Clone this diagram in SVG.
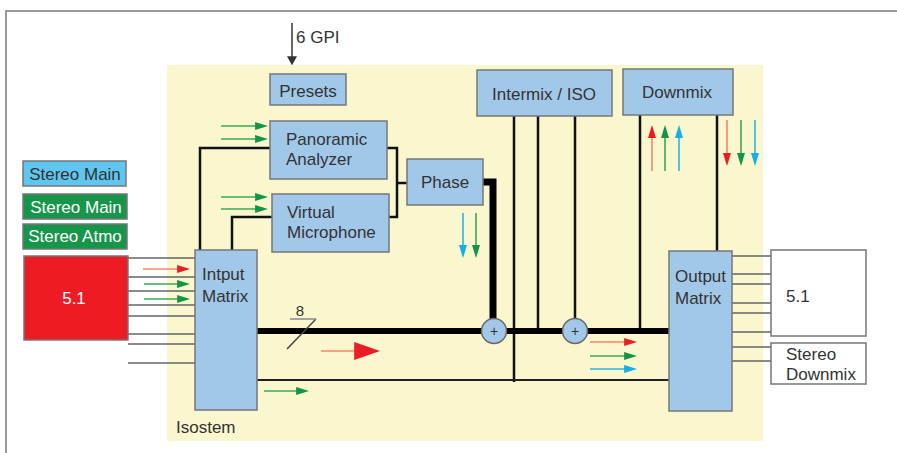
<svg xmlns="http://www.w3.org/2000/svg" width="897" height="453" viewBox="0 0 897 453">
<style>
text{font-family:"Liberation Sans",Arial,sans-serif;font-size:17px;fill:#333}
.box{fill:#a2c8e9;stroke:#777;stroke-width:1.5}
.wbox{fill:#fff;stroke:#777;stroke-width:1.5}
.con{fill:none;stroke:#111;stroke-width:2.5}
.thin{fill:none;stroke:#666;stroke-width:1.5}
.ar{stroke:#f4876a;stroke-width:1.6}
.ag{stroke:#3aa85a;stroke-width:1.6}
.ac{stroke:#2ab4e8;stroke-width:1.6}
.w{fill:#fff}
</style>
<defs>
<marker id="hr" viewBox="0 0 10 10" refX="3" refY="5" markerWidth="13" markerHeight="8" markerUnits="userSpaceOnUse" orient="auto" preserveAspectRatio="none"><path d="M0,0L10,5L0,10z" fill="#ec1c24"/></marker>
<marker id="hg" viewBox="0 0 10 10" refX="3" refY="5" markerWidth="13" markerHeight="8" markerUnits="userSpaceOnUse" orient="auto" preserveAspectRatio="none"><path d="M0,0L10,5L0,10z" fill="#149447"/></marker>
<marker id="hc" viewBox="0 0 10 10" refX="3" refY="5" markerWidth="13" markerHeight="8" markerUnits="userSpaceOnUse" orient="auto" preserveAspectRatio="none"><path d="M0,0L10,5L0,10z" fill="#14aee8"/></marker>
<marker id="hk" viewBox="0 0 10 10" refX="3" refY="5" markerWidth="9" markerHeight="10" markerUnits="userSpaceOnUse" orient="auto" preserveAspectRatio="none"><path d="M0,0L10,5L0,10z" fill="#333"/></marker>
<marker id="hbig" viewBox="0 0 10 10" refX="3" refY="5" markerWidth="26" markerHeight="18" markerUnits="userSpaceOnUse" orient="auto" preserveAspectRatio="none"><path d="M0,0L10,5L0,10z" fill="#ec1c24"/></marker>
</defs>

<path d="M6,453V11H897" fill="none" stroke="#9a9a9a" stroke-width="2"/>
<rect x="167" y="65" width="596" height="376" fill="#faf7cf"/>

<g id="connectors">
<!-- input lines -->
<path class="thin" d="M128,258H195M128,277H195M128,291H195M128,305H195M128,316H195M128,334H195M128,344H195M128,363H195"/>
<!-- output lines -->
<path class="thin" d="M732,256H771M732,274H771M732,284H771M732,303H771M732,313H771M732,332H771M732,347H771M732,361H771"/>
<!-- GPI -->
<line x1="292" y1="23" x2="292" y2="59" stroke="#333" stroke-width="1.5" marker-end="url(#hk)"/>
<!-- matrix to analyzers -->
<path class="con" d="M200,250V148H270"/>
<path class="con" d="M232,250V217H272"/>
<path class="con" d="M387,148H397V217H389M397,183H407"/>
<!-- phase to sum -->
<path fill="none" stroke="#000" stroke-width="7" d="M483,182H493V320"/>
<!-- intermix / downmix -->
<path class="con" d="M514,116V382M538,116V331M575,116V320M640,115V331M717,115V251"/>
<!-- buses -->
<line x1="257" y1="331" x2="669" y2="331" stroke="#000" stroke-width="6"/>
<line x1="257" y1="380" x2="669" y2="380" stroke="#222" stroke-width="2"/>
<!-- bus width mark -->
<path d="M287,349L316,319" stroke="#444" stroke-width="1.5" fill="none"/>
<path d="M290,319H316" stroke="#888" stroke-width="1.5" fill="none"/>
<text x="300" y="316" text-anchor="middle" style="font-size:15px">8</text>
<!-- colored arrows -->
<line class="ar" x1="143" y1="269" x2="181" y2="269" marker-end="url(#hr)"/>
<line class="ag" x1="144" y1="284" x2="181" y2="284" marker-end="url(#hg)"/>
<line class="ag" x1="144" y1="299" x2="181" y2="299" marker-end="url(#hg)"/>
<line class="ag" x1="221" y1="126" x2="259" y2="126" marker-end="url(#hg)"/>
<line class="ag" x1="221" y1="139" x2="259" y2="139" marker-end="url(#hg)"/>
<line class="ag" x1="221" y1="197" x2="259" y2="197" marker-end="url(#hg)"/>
<line class="ag" x1="221" y1="209" x2="259" y2="209" marker-end="url(#hg)"/>
<line class="ac" x1="463" y1="213" x2="463" y2="249" marker-end="url(#hc)"/>
<line class="ag" x1="476" y1="213" x2="476" y2="249" marker-end="url(#hg)"/>
<line class="ar" x1="652" y1="171" x2="652" y2="134" marker-end="url(#hr)"/>
<line class="ag" x1="665" y1="171" x2="665" y2="134" marker-end="url(#hg)"/>
<line class="ac" x1="679" y1="171" x2="679" y2="134" marker-end="url(#hc)"/>
<line class="ar" x1="727" y1="120" x2="727" y2="157" marker-end="url(#hr)"/>
<line class="ag" x1="741" y1="120" x2="741" y2="157" marker-end="url(#hg)"/>
<line class="ac" x1="755" y1="120" x2="755" y2="157" marker-end="url(#hc)"/>
<line class="ar" x1="590" y1="342" x2="628" y2="342" marker-end="url(#hr)"/>
<line class="ag" x1="590" y1="356" x2="628" y2="356" marker-end="url(#hg)"/>
<line class="ac" x1="590" y1="369" x2="628" y2="369" marker-end="url(#hc)"/>
<line class="ag" x1="264" y1="391" x2="300" y2="391" marker-end="url(#hg)"/>
<line class="ar" x1="321" y1="351" x2="362" y2="351" marker-end="url(#hbig)"/>
</g>

<text x="296" y="43">6 GPI</text>
<text x="176" y="433">Isostem</text>

<g id="legend-stereo-main-1"><rect x="23" y="161" width="103" height="25" fill="#5ec6ef" stroke="#777" stroke-width="1.5"/><text x="75" y="180" text-anchor="middle">Stereo Main</text></g>
<g id="legend-stereo-main-2"><rect x="23" y="194" width="104" height="25" fill="#17954a" stroke="#777" stroke-width="1.5"/><text class="w" x="76" y="213" text-anchor="middle">Stereo Main</text></g>
<g id="legend-stereo-atmo"><rect x="23" y="224" width="104" height="25" fill="#17954a" stroke="#777" stroke-width="1.5"/><text class="w" x="75" y="242" text-anchor="middle">Stereo Atmo</text></g>
<g id="input-51"><rect x="24" y="256" width="104" height="84" fill="#ed1c24" stroke="#777" stroke-width="1.5"/><text class="w" x="74" y="304" text-anchor="middle">5.1</text></g>

<g id="presets"><rect class="box" x="270" y="74" width="76" height="31"/><text x="308" y="97" text-anchor="middle">Presets</text></g>
<g id="panoramic"><rect class="box" x="270" y="121" width="117" height="58"/><text x="286" y="145">Panoramic</text><text x="286" y="165">Analyzer</text></g>
<g id="virtual"><rect class="box" x="272" y="194" width="117" height="58"/><text x="287" y="218">Virtual</text><text x="287" y="238">Microphone</text></g>
<g id="phase"><rect class="box" x="407" y="159" width="76" height="46"/><text x="445" y="188" text-anchor="middle">Phase</text></g>
<g id="intermix"><rect class="box" x="477" y="70" width="135" height="46"/><text x="544" y="100" text-anchor="middle">Intermix / ISO</text></g>
<g id="downmix"><rect class="box" x="623" y="69" width="110" height="46"/><text x="677" y="98" text-anchor="middle">Downmix</text></g>
<g id="input-matrix"><rect class="box" x="195" y="250" width="62" height="160"/><text x="202" y="280">Intput</text><text x="202" y="302">Matrix</text></g>
<g id="output-matrix"><rect class="box" x="669" y="251" width="63" height="160"/><text x="675" y="282">Output</text><text x="675" y="304">Matrix</text></g>
<g id="sum1"><circle cx="494" cy="331" r="12.5" fill="#a2c8e9" stroke="#666" stroke-width="1.5"/><text x="494" y="336" text-anchor="middle" style="font-size:14px">+</text></g>
<g id="sum2"><circle cx="575" cy="331" r="12.5" fill="#a2c8e9" stroke="#666" stroke-width="1.5"/><text x="575" y="336" text-anchor="middle" style="font-size:14px">+</text></g>
<g id="output-51"><rect class="wbox" x="771" y="250" width="95" height="86"/><text x="786" y="302">5.1</text></g>
<g id="stereo-downmix"><rect class="wbox" x="771" y="343" width="95" height="41"/><text x="786" y="360">Stereo</text><text x="786" y="380">Downmix</text></g>
</svg>
